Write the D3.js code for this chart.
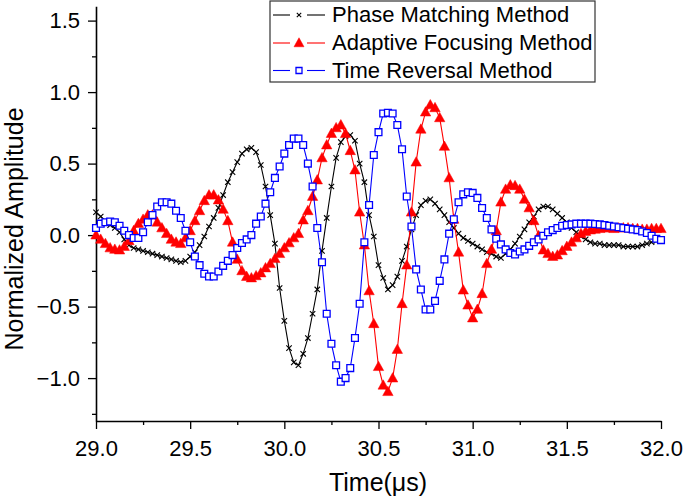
<!DOCTYPE html>
<html lang="en">
<head>
  <meta charset="UTF-8"/>
  <title>Normalized Amplitude vs Time</title>
  <script src="https://d3js.org/d3.v7.min.js"></script>
  <style>
    body { margin: 0; background: #fff; }
    svg text { font-family: "Liberation Sans", Arial, sans-serif; fill: #000; }
  </style>
</head>
<body>
<script>

var time = [
  29.000, 29.025, 29.050, 29.075, 29.100, 29.125, 29.150, 29.175, 29.200, 29.225,
  29.250, 29.275, 29.300, 29.325, 29.350, 29.375, 29.400, 29.425, 29.450, 29.475,
  29.500, 29.525, 29.550, 29.575, 29.600, 29.625, 29.650, 29.675, 29.700, 29.725,
  29.750, 29.775, 29.800, 29.825, 29.850, 29.875, 29.900, 29.925, 29.950, 29.975,
  30.000, 30.025, 30.050, 30.075, 30.100, 30.125, 30.150, 30.175, 30.200, 30.225,
  30.250, 30.275, 30.300, 30.325, 30.350, 30.375, 30.400, 30.425, 30.450, 30.475,
  30.500, 30.525, 30.550, 30.575, 30.600, 30.625, 30.650, 30.675, 30.700, 30.725,
  30.750, 30.775, 30.800, 30.825, 30.850, 30.875, 30.900, 30.925, 30.950, 30.975,
  31.000, 31.025, 31.050, 31.075, 31.100, 31.125, 31.150, 31.175, 31.200, 31.225,
  31.250, 31.275, 31.300, 31.325, 31.350, 31.375, 31.400, 31.425, 31.450, 31.475,
  31.500, 31.525, 31.550, 31.575, 31.600, 31.625, 31.650, 31.675, 31.700, 31.725,
  31.750, 31.775, 31.800, 31.825, 31.850, 31.875, 31.900, 31.925, 31.950, 31.975,
  32.000
];

var phaseMatching = [
  0.16, 0.13, 0.10, 0.07, 0.05, 0.02, -0.03, -0.07, -0.09, -0.10,
  -0.11, -0.12, -0.13, -0.14, -0.15, -0.16, -0.17, -0.18, -0.19, -0.18,
  -0.15, -0.12, -0.07, -0.01, 0.06, 0.12, 0.19, 0.28, 0.37, 0.44,
  0.51, 0.57, 0.60, 0.61, 0.58, 0.49, 0.34, 0.14, -0.06, -0.37,
  -0.60, -0.79, -0.89, -0.91, -0.83, -0.72, -0.55, -0.38, -0.11, 0.12,
  0.34, 0.54, 0.65, 0.69, 0.70, 0.66, 0.50, 0.37, 0.14, -0.01,
  -0.21, -0.30, -0.38, -0.35, -0.29, -0.18, -0.08, 0.04, 0.14, 0.21,
  0.24, 0.25, 0.22, 0.18, 0.14, 0.09, 0.05, 0.01, -0.02, -0.04,
  -0.06, -0.08, -0.10, -0.12, -0.13, -0.15, -0.16, -0.13, -0.10, -0.06,
  -0.01, 0.04, 0.09, 0.13, 0.18, 0.20, 0.20, 0.18, 0.15, 0.12,
  0.09, 0.05, 0.02, -0.01, -0.03, -0.05, -0.06, -0.06, -0.07, -0.07,
  -0.07, -0.07, -0.08, -0.08, -0.08, -0.08, -0.07, -0.06, -0.05, -0.04,
  -0.03
];

var adaptiveFocusing = [
  0.00, -0.03, -0.06, -0.09, -0.10, -0.105, -0.08, -0.04, 0.03, 0.08,
  0.11, 0.14, 0.14, 0.09, 0.05, 0.01, -0.03, -0.05, -0.06, -0.02,
  0.03, 0.10, 0.17, 0.24, 0.28, 0.28, 0.245, 0.18, 0.10, -0.05,
  -0.17, -0.25, -0.29, -0.30, -0.285, -0.265, -0.23, -0.20, -0.165, -0.13,
  -0.09, -0.055, -0.02, 0.01, 0.105, 0.17, 0.27, 0.385, 0.54, 0.63,
  0.71, 0.75, 0.77, 0.71, 0.59, 0.455, 0.16, -0.07, -0.39, -0.62,
  -0.92, -1.05, -1.095, -1.00, -0.80, -0.48, -0.21, 0.16, 0.51, 0.74,
  0.86, 0.91, 0.89, 0.82, 0.62, 0.40, 0.11, -0.12, -0.385, -0.49,
  -0.58, -0.52, -0.41, -0.20, -0.10, 0.03, 0.23, 0.32, 0.35, 0.345,
  0.32, 0.25, 0.19, 0.10, -0.005, -0.105, -0.13, -0.15, -0.14, -0.11,
  -0.08, -0.05, -0.02, 0.01, 0.025, 0.035, 0.04, 0.045, 0.05, 0.05,
  0.045, 0.05, 0.05, 0.05, 0.045, 0.045, 0.04, 0.04, 0.045, 0.045,
  0.045
];

var timeReversal = [
  0.05, 0.08, 0.09, 0.095, 0.09, 0.065, 0.03, 0.00, -0.02, -0.02,
  0.02, 0.09, 0.14, 0.20, 0.23, 0.23, 0.22, 0.17, 0.12, 0.03,
  -0.05, -0.15, -0.21, -0.27, -0.29, -0.29, -0.255, -0.215, -0.18, -0.14,
  -0.09, -0.055, -0.03, 0.00, 0.08, 0.13, 0.22, 0.30, 0.40, 0.48,
  0.57, 0.63, 0.675, 0.675, 0.63, 0.50, 0.34, 0.05, -0.19, -0.55,
  -0.76, -0.91, -1.025, -1.00, -0.93, -0.72, -0.48, -0.05, 0.21, 0.56,
  0.72, 0.85, 0.855, 0.85, 0.77, 0.60, 0.27, 0.06, -0.24, -0.38,
  -0.52, -0.52, -0.46, -0.32, -0.17, 0.01, 0.11, 0.23, 0.285, 0.30,
  0.295, 0.26, 0.19, 0.12, 0.04, -0.025, -0.065, -0.10, -0.125, -0.135,
  -0.115, -0.10, -0.075, -0.05, -0.03, -0.005, 0.02, 0.035, 0.05, 0.065,
  0.07, 0.075, 0.08, 0.08, 0.08, 0.08, 0.078, 0.075, 0.07, 0.065,
  0.06, 0.055, 0.05, 0.045, 0.04, 0.035, 0.025, 0.015, -0.005, -0.025,
  -0.035
];

var xTicks = [29.0, 29.5, 30.0, 30.5, 31.0, 31.5, 32.0];
var xMinor = [29.25, 29.75, 30.25, 30.75, 31.25, 31.75];
var yTicks = [-1.0, -0.5, 0.0, 0.5, 1.0, 1.5];
var yMinor = [-1.25, -0.75, -0.25, 0.25, 0.75, 1.25];
var seriesNames = ["Phase Matching Method", "Adaptive Focusing Method", "Time Reversal Method"];

var w = 685;
var h = 499;

var x = d3.scaleLinear().domain([29, 32]).range([96, 661]);
var y = d3.scaleLinear().domain([-1.3, 1.6]).range([421, 6.3]);

var svg = d3.select("body")
            .append("svg")
            .attr("width", w)
            .attr("height", h);

// minor ticks
svg.append("g")
   .attr("transform", "translate(0,421)")
   .call(d3.axisBottom(x).tickValues(xMinor).tickSize(4).tickFormat(""))
   .call(function(g) { g.select(".domain").remove(); });

svg.append("g")
   .attr("transform", "translate(96,0)")
   .call(d3.axisLeft(y).tickValues(yMinor).tickSize(4).tickFormat(""))
   .call(function(g) { g.select(".domain").remove(); });

var xAxis = svg.append("g")
   .attr("transform", "translate(0,421)")
   .call(d3.axisBottom(x).tickValues(xTicks).tickSize(8).tickSizeOuter(0)
           .tickPadding(11).tickFormat(d3.format(".1f")));

var yAxis = svg.append("g")
   .attr("transform", "translate(96,0)")
   .call(d3.axisLeft(y).tickValues(yTicks).tickSize(8).tickSizeOuter(0)
           .tickPadding(8).tickFormat(d3.format(".1f")));

svg.selectAll(".tick line").attr("stroke", "#000").attr("stroke-width", 1.3);
svg.selectAll(".domain").attr("stroke", "#000").attr("stroke-width", 1.6);
svg.selectAll(".tick text")
   .attr("font-family", "'Liberation Sans', Arial, sans-serif")
   .attr("font-size", 22)
   .attr("fill", "#000");

// axis titles
svg.append("text")
   .attr("x", 378)
   .attr("y", 491)
   .attr("text-anchor", "middle")
   .attr("font-size", 25)
   .text("Time(μs)");

svg.append("text")
   .attr("transform", "translate(23,229) rotate(-90)")
   .attr("text-anchor", "middle")
   .attr("font-size", 25)
   .text("Normalized Amplitude");

var series = [
  { name: seriesNames[0], values: phaseMatching, color: "#000000", marker: "cross" },
  { name: seriesNames[1], values: adaptiveFocusing, color: "#ff0000", marker: "triangle" },
  { name: seriesNames[2], values: timeReversal, color: "#0000ff", marker: "square" }
];

function markerPath(type, s) {
  if (type == "cross") {
    return "M" + (-s) + "," + (-s) + "L" + s + "," + s + "M" + (-s) + "," + s + "L" + s + "," + (-s);
  } else if (type == "triangle") {
    return "M0," + (-s * 1.05) + "L" + s + "," + (s * 0.75) + "L" + (-s) + "," + (s * 0.75) + "Z";
  } else {
    return "M" + (-s) + "," + (-s) + "H" + s + "V" + s + "H" + (-s) + "Z";
  }
}

function styleMarker(sel, d) {
  if (d.marker == "cross") {
    sel.attr("fill", "none").attr("stroke", d.color).attr("stroke-width", 1.1);
  } else if (d.marker == "triangle") {
    sel.attr("fill", d.color).attr("stroke", d.color).attr("stroke-width", 0.5);
  } else {
    sel.attr("fill", "#fff").attr("stroke", d.color).attr("stroke-width", 1.3);
  }
}

var markerSize = { cross: 2.7, triangle: 5.2, square: 3.4 };

series.forEach(function(d) {
  var pts = time.map(function(t, i) { return [t, d.values[i]]; });

  var line = d3.line()
               .x(function(p) { return x(p[0]); })
               .y(function(p) { return y(p[1]); });

  svg.append("path")
     .datum(pts)
     .attr("d", line)
     .attr("fill", "none")
     .attr("stroke", d.color)
     .attr("stroke-width", 1.1);

  var m = svg.append("g")
     .selectAll("path")
     .data(pts)
     .enter()
     .append("path")
     .attr("transform", function(p) { return "translate(" + x(p[0]) + "," + y(p[1]) + ")"; })
     .attr("d", markerPath(d.marker, markerSize[d.marker]));
  styleMarker(m, d);
});

// legend
var legend = svg.append("g");

legend.append("rect")
      .attr("x", 270)
      .attr("y", 1)
      .attr("width", 325)
      .attr("height", 81)
      .attr("fill", "#fff")
      .attr("stroke", "#333")
      .attr("stroke-width", 1.2);

var legendY = [15, 43, 70.5];
var legendMarkerSize = { cross: 2.2, triangle: 5, square: 3 };

series.forEach(function(d, i) {
  var ly = legendY[i];
  legend.append("line")
        .attr("x1", 273).attr("x2", 290)
        .attr("y1", ly).attr("y2", ly)
        .attr("stroke", d.color).attr("stroke-width", 1.1);
  legend.append("line")
        .attr("x1", 307).attr("x2", 325)
        .attr("y1", ly).attr("y2", ly)
        .attr("stroke", d.color).attr("stroke-width", 1.1);
  var lm = legend.append("path")
        .attr("transform", "translate(299," + ly + ")")
        .attr("d", markerPath(d.marker, legendMarkerSize[d.marker]));
  styleMarker(lm, d);
  legend.append("text")
        .attr("x", 332)
        .attr("y", ly + 7)
        .attr("font-size", 22)
        .text(d.name);
});

</script>
</body>
</html>
